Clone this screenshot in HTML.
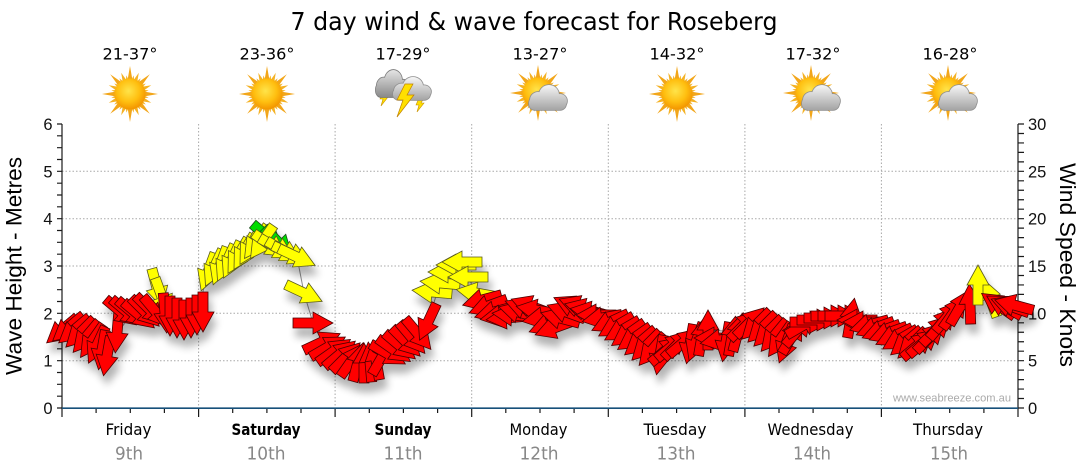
<!DOCTYPE html>
<html><head><meta charset="utf-8">
<style>
html,body{margin:0;padding:0;background:#fff;}
svg{display:block;}
.r{fill:#ff0000;stroke:#4a0000;stroke-width:0.8;}
.y{fill:#ffff00;stroke:#5a5a1c;stroke-width:0.8;}
.g{fill:#00dd00;stroke:#1a4a1a;stroke-width:0.8;}
.t{font-family:"DejaVu Sans","Liberation Sans",sans-serif;}
.a{font-family:"Liberation Sans",Arial,sans-serif;}
</style></head>
<body>
<svg width="1080" height="475" viewBox="0 0 1080 475" xmlns="http://www.w3.org/2000/svg">
<defs>
  <polygon id="A" points="-20,-5 0,-5 0,-11 20,0 0,11 0,5 -20,5"/>
  <filter id="sh" x="-10%" y="-30%" width="120%" height="180%">
    <feGaussianBlur in="SourceAlpha" stdDeviation="4"/>
    <feOffset dx="3" dy="9" result="o"/>
    <feComponentTransfer><feFuncA type="linear" slope="0.3"/></feComponentTransfer>
    <feMerge><feMergeNode/><feMergeNode in="SourceGraphic"/></feMerge>
  </filter>
  <radialGradient id="sd" cx="45%" cy="40%" r="60%">
    <stop offset="0" stop-color="#ffe44a"/>
    <stop offset="0.6" stop-color="#ffbf10"/>
    <stop offset="1" stop-color="#f39500"/>
  </radialGradient>
  <linearGradient id="cg" gradientUnits="userSpaceOnUse" x1="0" y1="0" x2="0" y2="25">
    <stop offset="0" stop-color="#f6f6f6"/>
    <stop offset="1" stop-color="#a4a4a4"/>
  </linearGradient>
  <linearGradient id="cg2" gradientUnits="userSpaceOnUse" x1="0" y1="0" x2="0" y2="25">
    <stop offset="0" stop-color="#e4e4e4"/>
    <stop offset="1" stop-color="#8a8a8a"/>
  </linearGradient>
  <polygon id="rl" points="-2.6,-13 0,-28 2.6,-13" fill="#f2a61a"/>
  <polygon id="rm" points="-2.3,-13 0,-23 2.3,-13" fill="#f4b226"/>
  <polygon id="rs" points="-1.8,-13 0,-19 1.8,-13" fill="#f4b630"/>
  <g id="sun">
    <use href="#rl" transform="rotate(0)"/><use href="#rl" transform="rotate(45)"/><use href="#rl" transform="rotate(90)"/><use href="#rl" transform="rotate(135)"/>
    <use href="#rl" transform="rotate(180)"/><use href="#rl" transform="rotate(225)"/><use href="#rl" transform="rotate(270)"/><use href="#rl" transform="rotate(315)"/>
    <use href="#rm" transform="rotate(22.5)"/><use href="#rm" transform="rotate(67.5)"/><use href="#rm" transform="rotate(112.5)"/><use href="#rm" transform="rotate(157.5)"/>
    <use href="#rm" transform="rotate(202.5)"/><use href="#rm" transform="rotate(247.5)"/><use href="#rm" transform="rotate(292.5)"/><use href="#rm" transform="rotate(337.5)"/>
    <use href="#rs" transform="rotate(11.25)"/><use href="#rs" transform="rotate(33.75)"/><use href="#rs" transform="rotate(56.25)"/><use href="#rs" transform="rotate(78.75)"/>
    <use href="#rs" transform="rotate(101.25)"/><use href="#rs" transform="rotate(123.75)"/><use href="#rs" transform="rotate(146.25)"/><use href="#rs" transform="rotate(168.75)"/>
    <use href="#rs" transform="rotate(191.25)"/><use href="#rs" transform="rotate(213.75)"/><use href="#rs" transform="rotate(236.25)"/><use href="#rs" transform="rotate(258.75)"/>
    <use href="#rs" transform="rotate(281.25)"/><use href="#rs" transform="rotate(303.75)"/><use href="#rs" transform="rotate(326.25)"/><use href="#rs" transform="rotate(348.75)"/>
    <circle r="15.5" fill="url(#sd)"/>
  </g>
  <g id="cs">
    <rect x="2" y="12" width="37" height="13" rx="6"/>
    <circle cx="11" cy="15" r="8"/>
    <circle cx="22" cy="10" r="10"/>
    <circle cx="33" cy="16" r="7"/>
  </g>
  <g id="cloud">
    <use href="#cs" fill="#8e8e8e" stroke="#8e8e8e" stroke-width="1.6"/>
    <use href="#cs" fill="url(#cg)"/>
  </g>
  <g id="cloud2">
    <use href="#cs" fill="#7a7a7a" stroke="#7a7a7a" stroke-width="1.6"/>
    <use href="#cs" fill="url(#cg2)"/>
  </g>
</defs>

<rect width="1080" height="475" fill="#fff"/>

<!-- Title -->
<text class="t" x="534" y="30" font-size="25" text-anchor="middle" textLength="487" lengthAdjust="spacingAndGlyphs" fill="#000">7 day wind &amp; wave forecast for Roseberg</text>

<!-- Temps -->
<g class="t" font-size="16" fill="#000" text-anchor="middle">
  <text x="130" y="59.5" textLength="55" lengthAdjust="spacingAndGlyphs">21-37°</text>
  <text x="267" y="59.5" textLength="55" lengthAdjust="spacingAndGlyphs">23-36°</text>
  <text x="403" y="59.5" textLength="55" lengthAdjust="spacingAndGlyphs">17-29°</text>
  <text x="540" y="59.5" textLength="55" lengthAdjust="spacingAndGlyphs">13-27°</text>
  <text x="677" y="59.5" textLength="55" lengthAdjust="spacingAndGlyphs">14-32°</text>
  <text x="813" y="59.5" textLength="55" lengthAdjust="spacingAndGlyphs">17-32°</text>
  <text x="950" y="59.5" textLength="55" lengthAdjust="spacingAndGlyphs">16-28°</text>
</g>

<!-- Icons -->
<use href="#sun" transform="translate(130,94)"/>
<use href="#sun" transform="translate(267,94)"/>
<use href="#sun" transform="translate(677,94)"/>
<use href="#sun" transform="translate(538,93)"/>
<use href="#cloud" transform="translate(527,85)"/>
<use href="#sun" transform="translate(811,93)"/>
<use href="#cloud" transform="translate(800,85)"/>
<use href="#sun" transform="translate(948,93)"/>
<use href="#cloud" transform="translate(937,85)"/>
<!-- thunder -->
<polygon points="383,92 388,92 385,97 388,97 381,106 383,99 380,99" fill="#ffe000" stroke="#c89000" stroke-width="0.6"/>
<polygon points="419,98 424,98 421,103 424,103 417,112 419,105 416,105" fill="#ffe000" stroke="#c89000" stroke-width="0.6"/>
<use href="#cloud2" transform="translate(374,70) scale(0.88,1.08)"/>
<use href="#cloud" transform="translate(391,77) scale(1.0,0.92)"/>
<polygon points="405,84 413,84 407,95 414,95 397,117 403,100 397,100" fill="#ffe000" stroke="#c08000" stroke-width="0.7"/>

<!-- Grid -->
<g stroke="#a8a8a8" stroke-width="1" stroke-dasharray="1.5,2" fill="none">
  <path d="M62 171.3H1018M62 218.7H1018M62 266H1018M62 313.3H1018M62 360.7H1018"/>
  <path d="M198.6 124V408M335.1 124V408M471.7 124V408M608.3 124V408M744.9 124V408M881.4 124V408"/>
</g>

<!-- Watermark -->
<text class="a" x="1011" y="401.5" font-size="11" fill="#aaaaaa" text-anchor="end" textLength="118" lengthAdjust="spacingAndGlyphs">www.seabreeze.com.au</text>

<!-- Axes -->
<g stroke="#1a1a1a" stroke-width="1.2" fill="none">
  <path d="M62 124V408M1018 124V408"/>
  <path d="M57 408h5M57 396.17h5M57 384.33h5M57 372.5h5M57 360.67h5M57 348.83h5M57 337h5M57 325.17h5M57 313.33h5M57 301.5h5M57 289.67h5M57 277.83h5M57 266h5M57 254.17h5M57 242.33h5M57 230.5h5M57 218.67h5M57 206.83h5M57 195h5M57 183.17h5M57 171.33h5M57 159.5h5M57 147.67h5M57 135.83h5M57 124h5"/>
  <path d="M1018 408h6M1018 398.53h6M1018 389.07h6M1018 379.6h6M1018 370.13h6M1018 360.67h6M1018 351.2h6M1018 341.73h6M1018 332.27h6M1018 322.8h6M1018 313.33h6M1018 303.87h6M1018 294.4h6M1018 284.93h6M1018 275.47h6M1018 266h6M1018 256.53h6M1018 247.07h6M1018 237.6h6M1018 228.13h6M1018 218.67h6M1018 209.2h6M1018 199.73h6M1018 190.27h6M1018 180.8h6M1018 171.33h6M1018 161.87h6M1018 152.4h6M1018 142.93h6M1018 133.47h6M1018 124h6"/>
  <path d="M62 408v9M198.6 408v9M335.1 408v9M471.7 408v9M608.3 408v9M744.9 408v9M881.4 408v9M1018 408v9"/>
  <path d="M96.1 408v5M130.3 408v5M164.4 408v5M232.7 408v5M266.9 408v5M301 408v5M369.3 408v5M403.4 408v5M437.6 408v5M505.8 408v5M540 408v5M574.1 408v5M642.4 408v5M676.6 408v5M710.7 408v5M779 408v5M813.1 408v5M847.3 408v5M915.6 408v5M949.7 408v5M983.9 408v5"/>
</g>
<path d="M62 408.2H1018" stroke="#17507a" stroke-width="1.6"/>

<!-- Axis labels -->
<g class="a" font-size="16.5" fill="#111">
  <g text-anchor="end">
    <text x="52.5" y="414">0</text><text x="52.5" y="366.7">1</text><text x="52.5" y="319.3">2</text><text x="52.5" y="272">3</text><text x="52.5" y="224.7">4</text><text x="52.5" y="177.3">5</text><text x="52.5" y="130">6</text>
  </g>
  <text x="1028" y="414">0</text><text x="1028" y="366.7">5</text><text x="1028" y="319.3">10</text><text x="1028" y="272">15</text><text x="1028" y="224.7">20</text><text x="1028" y="177.3">25</text><text x="1028" y="130">30</text>
</g>
<text class="a" transform="translate(21.5,266) rotate(-90)" font-size="22.5" text-anchor="middle" textLength="218" lengthAdjust="spacingAndGlyphs" fill="#000">Wave Height - Metres</text>
<text class="a" transform="translate(1060,265) rotate(90)" font-size="22.5" text-anchor="middle" textLength="204" lengthAdjust="spacingAndGlyphs" fill="#000">Wind Speed - Knots</text>

<!-- Day labels -->
<g class="t" font-size="16" fill="#000" text-anchor="middle">
  <text x="128.5" y="435" textLength="46" lengthAdjust="spacingAndGlyphs">Friday</text>
  <text x="266" y="435" font-weight="bold" textLength="69" lengthAdjust="spacingAndGlyphs">Saturday</text>
  <text x="403" y="435" font-weight="bold" textLength="57" lengthAdjust="spacingAndGlyphs">Sunday</text>
  <text x="538.5" y="435" textLength="58" lengthAdjust="spacingAndGlyphs">Monday</text>
  <text x="675" y="435" textLength="63" lengthAdjust="spacingAndGlyphs">Tuesday</text>
  <text x="810.5" y="435" textLength="86" lengthAdjust="spacingAndGlyphs">Wednesday</text>
  <text x="948" y="435" textLength="70" lengthAdjust="spacingAndGlyphs">Thursday</text>
</g>
<g class="t" font-size="18" fill="#888" text-anchor="middle">
  <text x="129" y="459.5" textLength="28" lengthAdjust="spacingAndGlyphs">9th</text>
  <text x="266" y="459.5" textLength="39" lengthAdjust="spacingAndGlyphs">10th</text>
  <text x="403" y="459.5" textLength="39" lengthAdjust="spacingAndGlyphs">11th</text>
  <text x="539" y="459.5" textLength="39" lengthAdjust="spacingAndGlyphs">12th</text>
  <text x="676" y="459.5" textLength="39" lengthAdjust="spacingAndGlyphs">13th</text>
  <text x="812" y="459.5" textLength="38" lengthAdjust="spacingAndGlyphs">14th</text>
  <text x="949" y="459.5" textLength="38" lengthAdjust="spacingAndGlyphs">15th</text>
</g>

<!-- connecting line -->
<polyline fill="none" stroke="#8c8c8c" stroke-width="1" points="62,330 86,337 107,356 117,333 133,313 165,313 197,315 208,272 232,260 256,242 268,244 297,257 304,293 313,323 334,351 364,363 382,357 406,342 428,322 440,283 456,265 468,277 476,293 500,316 530,306 554,328 578,306 602,318 628,334 660,356 684,342 708,330 738,332 768,332 786,344 810,322 845,316 881,331 912,344 942,323 970,304 978,285 994,304 1014,305"/>

<!-- Arrows -->
<g filter="url(#sh)">
<!-- Friday -->
<use href="#A" class="r" transform="translate(62,330) rotate(140)"/>
<use href="#A" class="r" transform="translate(68,328) rotate(140)"/>
<use href="#A" class="r" transform="translate(74,330) rotate(140)"/>
<use href="#A" class="r" transform="translate(80,333) rotate(135)"/>
<use href="#A" class="r" transform="translate(86,337) rotate(130)"/>
<use href="#A" class="r" transform="translate(92,341) rotate(125)"/>
<use href="#A" class="r" transform="translate(97,345) rotate(115)"/>
<use href="#A" class="r" transform="translate(102,350) rotate(100)"/>
<use href="#A" class="r" transform="translate(107,356) rotate(100)"/>
<use href="#A" class="r" transform="translate(117,333) rotate(95)"/>
<use href="#A" class="r" transform="translate(121,312) rotate(40)"/>
<use href="#A" class="r" transform="translate(127,312) rotate(40)"/>
<use href="#A" class="r" transform="translate(133,313) rotate(40)"/>
<use href="#A" class="r" transform="translate(139,315) rotate(40)"/>
<use href="#A" class="r" transform="translate(145,312) rotate(45)"/>
<use href="#A" class="y" transform="translate(157,288) rotate(75)"/>
<use href="#A" class="y" transform="translate(162,297) rotate(70)"/>
<use href="#A" class="r" transform="translate(150,310) rotate(45)"/>
<use href="#A" class="r" transform="translate(156,312) rotate(50)"/>
<use href="#A" class="r" transform="translate(165,313) rotate(85)"/>
<use href="#A" class="r" transform="translate(170,316) rotate(90)"/>
<use href="#A" class="r" transform="translate(177,318) rotate(90)"/>
<use href="#A" class="r" transform="translate(184,320) rotate(90)"/>
<use href="#A" class="r" transform="translate(191,318) rotate(90)"/>
<use href="#A" class="r" transform="translate(197,315) rotate(90)"/>
<use href="#A" class="r" transform="translate(203,312) rotate(90)"/>
<!-- Saturday -->
<use href="#A" class="y" transform="translate(208,272) rotate(110)"/>
<use href="#A" class="y" transform="translate(214,268) rotate(115)"/>
<use href="#A" class="y" transform="translate(220,266) rotate(110)"/>
<use href="#A" class="y" transform="translate(226,263) rotate(115)"/>
<use href="#A" class="y" transform="translate(232,260) rotate(115)"/>
<use href="#A" class="y" transform="translate(238,256) rotate(120)"/>
<use href="#A" class="y" transform="translate(244,252) rotate(120)"/>
<use href="#A" class="y" transform="translate(250,247) rotate(120)"/>
<use href="#A" class="y" transform="translate(256,242) rotate(125)"/>
<use href="#A" class="g" transform="translate(268,237) rotate(40)"/>
<use href="#A" class="g" transform="translate(278,242) rotate(45)"/>
<use href="#A" class="y" transform="translate(262,242) rotate(125)"/>
<use href="#A" class="y" transform="translate(270,245) rotate(35)"/>
<use href="#A" class="y" transform="translate(277,248) rotate(30)"/>
<use href="#A" class="y" transform="translate(284,251) rotate(30)"/>
<use href="#A" class="y" transform="translate(291,254) rotate(25)"/>
<use href="#A" class="y" transform="translate(297,257) rotate(25)"/>
<use href="#A" class="y" transform="translate(304,293) rotate(25)"/>
<use href="#A" class="r" transform="translate(313,323) rotate(0)"/>
<use href="#A" class="r" transform="translate(322,342) rotate(-25)"/>
<use href="#A" class="r" transform="translate(328,347) rotate(-30)"/>
<use href="#A" class="r" transform="translate(334,351) rotate(-35)"/>
<use href="#A" class="r" transform="translate(340,354) rotate(-40)"/>
<use href="#A" class="r" transform="translate(346,357) rotate(-45)"/>
<!-- Sunday -->
<use href="#A" class="r" transform="translate(352,360) rotate(-55)"/>
<use href="#A" class="r" transform="translate(358,362) rotate(-75)"/>
<use href="#A" class="r" transform="translate(364,363) rotate(-90)"/>
<use href="#A" class="r" transform="translate(370,362) rotate(-95)"/>
<use href="#A" class="r" transform="translate(376,360) rotate(-100)"/>
<use href="#A" class="r" transform="translate(382,357) rotate(-60)"/>
<use href="#A" class="r" transform="translate(388,354) rotate(30)"/>
<use href="#A" class="r" transform="translate(394,350) rotate(35)"/>
<use href="#A" class="r" transform="translate(400,346) rotate(40)"/>
<use href="#A" class="r" transform="translate(406,342) rotate(45)"/>
<use href="#A" class="r" transform="translate(412,338) rotate(50)"/>
<use href="#A" class="r" transform="translate(418,334) rotate(50)"/>
<use href="#A" class="r" transform="translate(428,322) rotate(115)"/>
<use href="#A" class="y" transform="translate(432,292) rotate(185)"/>
<use href="#A" class="y" transform="translate(440,283) rotate(185)"/>
<use href="#A" class="y" transform="translate(448,272) rotate(180)"/>
<use href="#A" class="y" transform="translate(456,265) rotate(180)"/>
<use href="#A" class="y" transform="translate(462,262) rotate(180)"/>
<use href="#A" class="y" transform="translate(468,277) rotate(180)"/>
<use href="#A" class="y" transform="translate(476,293) rotate(190)"/>
<!-- Monday -->
<use href="#A" class="r" transform="translate(482,300) rotate(165)"/>
<use href="#A" class="r" transform="translate(488,306) rotate(160)"/>
<use href="#A" class="r" transform="translate(494,312) rotate(165)"/>
<use href="#A" class="r" transform="translate(500,316) rotate(170)"/>
<use href="#A" class="r" transform="translate(506,318) rotate(175)"/>
<use href="#A" class="r" transform="translate(512,315) rotate(185)"/>
<use href="#A" class="r" transform="translate(518,312) rotate(195)"/>
<use href="#A" class="r" transform="translate(524,308) rotate(200)"/>
<use href="#A" class="r" transform="translate(530,306) rotate(200)"/>
<use href="#A" class="r" transform="translate(536,310) rotate(190)"/>
<use href="#A" class="r" transform="translate(542,318) rotate(170)"/>
<use href="#A" class="r" transform="translate(548,325) rotate(160)"/>
<use href="#A" class="r" transform="translate(554,328) rotate(160)"/>
<use href="#A" class="r" transform="translate(560,318) rotate(195)"/>
<use href="#A" class="r" transform="translate(566,312) rotate(200)"/>
<use href="#A" class="r" transform="translate(572,306) rotate(205)"/>
<use href="#A" class="r" transform="translate(578,306) rotate(200)"/>
<use href="#A" class="r" transform="translate(584,309) rotate(195)"/>
<use href="#A" class="r" transform="translate(590,312) rotate(190)"/>
<use href="#A" class="r" transform="translate(596,315) rotate(180)"/>
<use href="#A" class="r" transform="translate(602,318) rotate(170)"/>
<!-- Tuesday -->
<use href="#A" class="r" transform="translate(610,322) rotate(155)"/>
<use href="#A" class="r" transform="translate(616,326) rotate(150)"/>
<use href="#A" class="r" transform="translate(622,330) rotate(150)"/>
<use href="#A" class="r" transform="translate(628,334) rotate(145)"/>
<use href="#A" class="r" transform="translate(634,338) rotate(145)"/>
<use href="#A" class="r" transform="translate(640,342) rotate(140)"/>
<use href="#A" class="r" transform="translate(646,346) rotate(135)"/>
<use href="#A" class="r" transform="translate(652,350) rotate(130)"/>
<use href="#A" class="r" transform="translate(660,355) rotate(100)"/>
<use href="#A" class="r" transform="translate(666,350) rotate(-40)"/>
<use href="#A" class="r" transform="translate(672,346) rotate(-40)"/>
<use href="#A" class="r" transform="translate(678,344) rotate(-45)"/>
<use href="#A" class="r" transform="translate(684,342) rotate(-40)"/>
<use href="#A" class="r" transform="translate(690,344) rotate(100)"/>
<use href="#A" class="r" transform="translate(696,342) rotate(110)"/>
<use href="#A" class="r" transform="translate(702,336) rotate(-80)"/>
<use href="#A" class="r" transform="translate(708,330) rotate(-90)"/>
<use href="#A" class="r" transform="translate(714,338) rotate(180)"/>
<use href="#A" class="r" transform="translate(720,340) rotate(170)"/>
<use href="#A" class="r" transform="translate(726,342) rotate(100)"/>
<use href="#A" class="r" transform="translate(732,336) rotate(-80)"/>
<use href="#A" class="r" transform="translate(738,332) rotate(-75)"/>
<!-- Wednesday -->
<use href="#A" class="r" transform="translate(744,325) rotate(-45)"/>
<use href="#A" class="r" transform="translate(750,322) rotate(-45)"/>
<use href="#A" class="r" transform="translate(756,325) rotate(135)"/>
<use href="#A" class="r" transform="translate(762,328) rotate(135)"/>
<use href="#A" class="r" transform="translate(768,332) rotate(135)"/>
<use href="#A" class="r" transform="translate(774,336) rotate(130)"/>
<use href="#A" class="r" transform="translate(780,340) rotate(125)"/>
<use href="#A" class="r" transform="translate(786,344) rotate(110)"/>
<use href="#A" class="r" transform="translate(792,336) rotate(-60)"/>
<use href="#A" class="r" transform="translate(798,330) rotate(-50)"/>
<use href="#A" class="r" transform="translate(804,325) rotate(-30)"/>
<use href="#A" class="r" transform="translate(810,322) rotate(0)"/>
<use href="#A" class="r" transform="translate(817,320) rotate(0)"/>
<use href="#A" class="r" transform="translate(824,318) rotate(0)"/>
<use href="#A" class="r" transform="translate(831,316) rotate(0)"/>
<use href="#A" class="r" transform="translate(838,316) rotate(0)"/>
<use href="#A" class="r" transform="translate(845,316) rotate(0)"/>
<use href="#A" class="r" transform="translate(851,318) rotate(-80)"/>
<use href="#A" class="r" transform="translate(857,320) rotate(180)"/>
<use href="#A" class="r" transform="translate(863,322) rotate(180)"/>
<use href="#A" class="r" transform="translate(869,325) rotate(165)"/>
<use href="#A" class="r" transform="translate(875,328) rotate(160)"/>
<use href="#A" class="r" transform="translate(881,331) rotate(160)"/>
<!-- Thursday -->
<use href="#A" class="r" transform="translate(888,333) rotate(160)"/>
<use href="#A" class="r" transform="translate(894,336) rotate(155)"/>
<use href="#A" class="r" transform="translate(900,339) rotate(150)"/>
<use href="#A" class="r" transform="translate(906,342) rotate(140)"/>
<use href="#A" class="r" transform="translate(912,344) rotate(135)"/>
<use href="#A" class="r" transform="translate(918,345) rotate(-40)"/>
<use href="#A" class="r" transform="translate(924,342) rotate(-40)"/>
<use href="#A" class="r" transform="translate(930,337) rotate(-45)"/>
<use href="#A" class="r" transform="translate(936,330) rotate(-45)"/>
<use href="#A" class="r" transform="translate(942,323) rotate(-50)"/>
<use href="#A" class="r" transform="translate(948,316) rotate(-50)"/>
<use href="#A" class="r" transform="translate(954,312) rotate(-55)"/>
<use href="#A" class="r" transform="translate(960,307) rotate(-60)"/>
<use href="#A" class="r" transform="translate(970,304) rotate(-92)"/>
<use href="#A" class="y" transform="translate(990,298) rotate(-110)"/>
<use href="#A" class="y" transform="translate(978,285) rotate(-90)"/>
<use href="#A" class="r" transform="translate(998,305) rotate(215)"/>
<use href="#A" class="r" transform="translate(1004,306) rotate(210)"/>
<use href="#A" class="r" transform="translate(1010,306) rotate(200)"/>
<use href="#A" class="r" transform="translate(1014,305) rotate(195)"/>
</g>
</svg>
</body></html>
